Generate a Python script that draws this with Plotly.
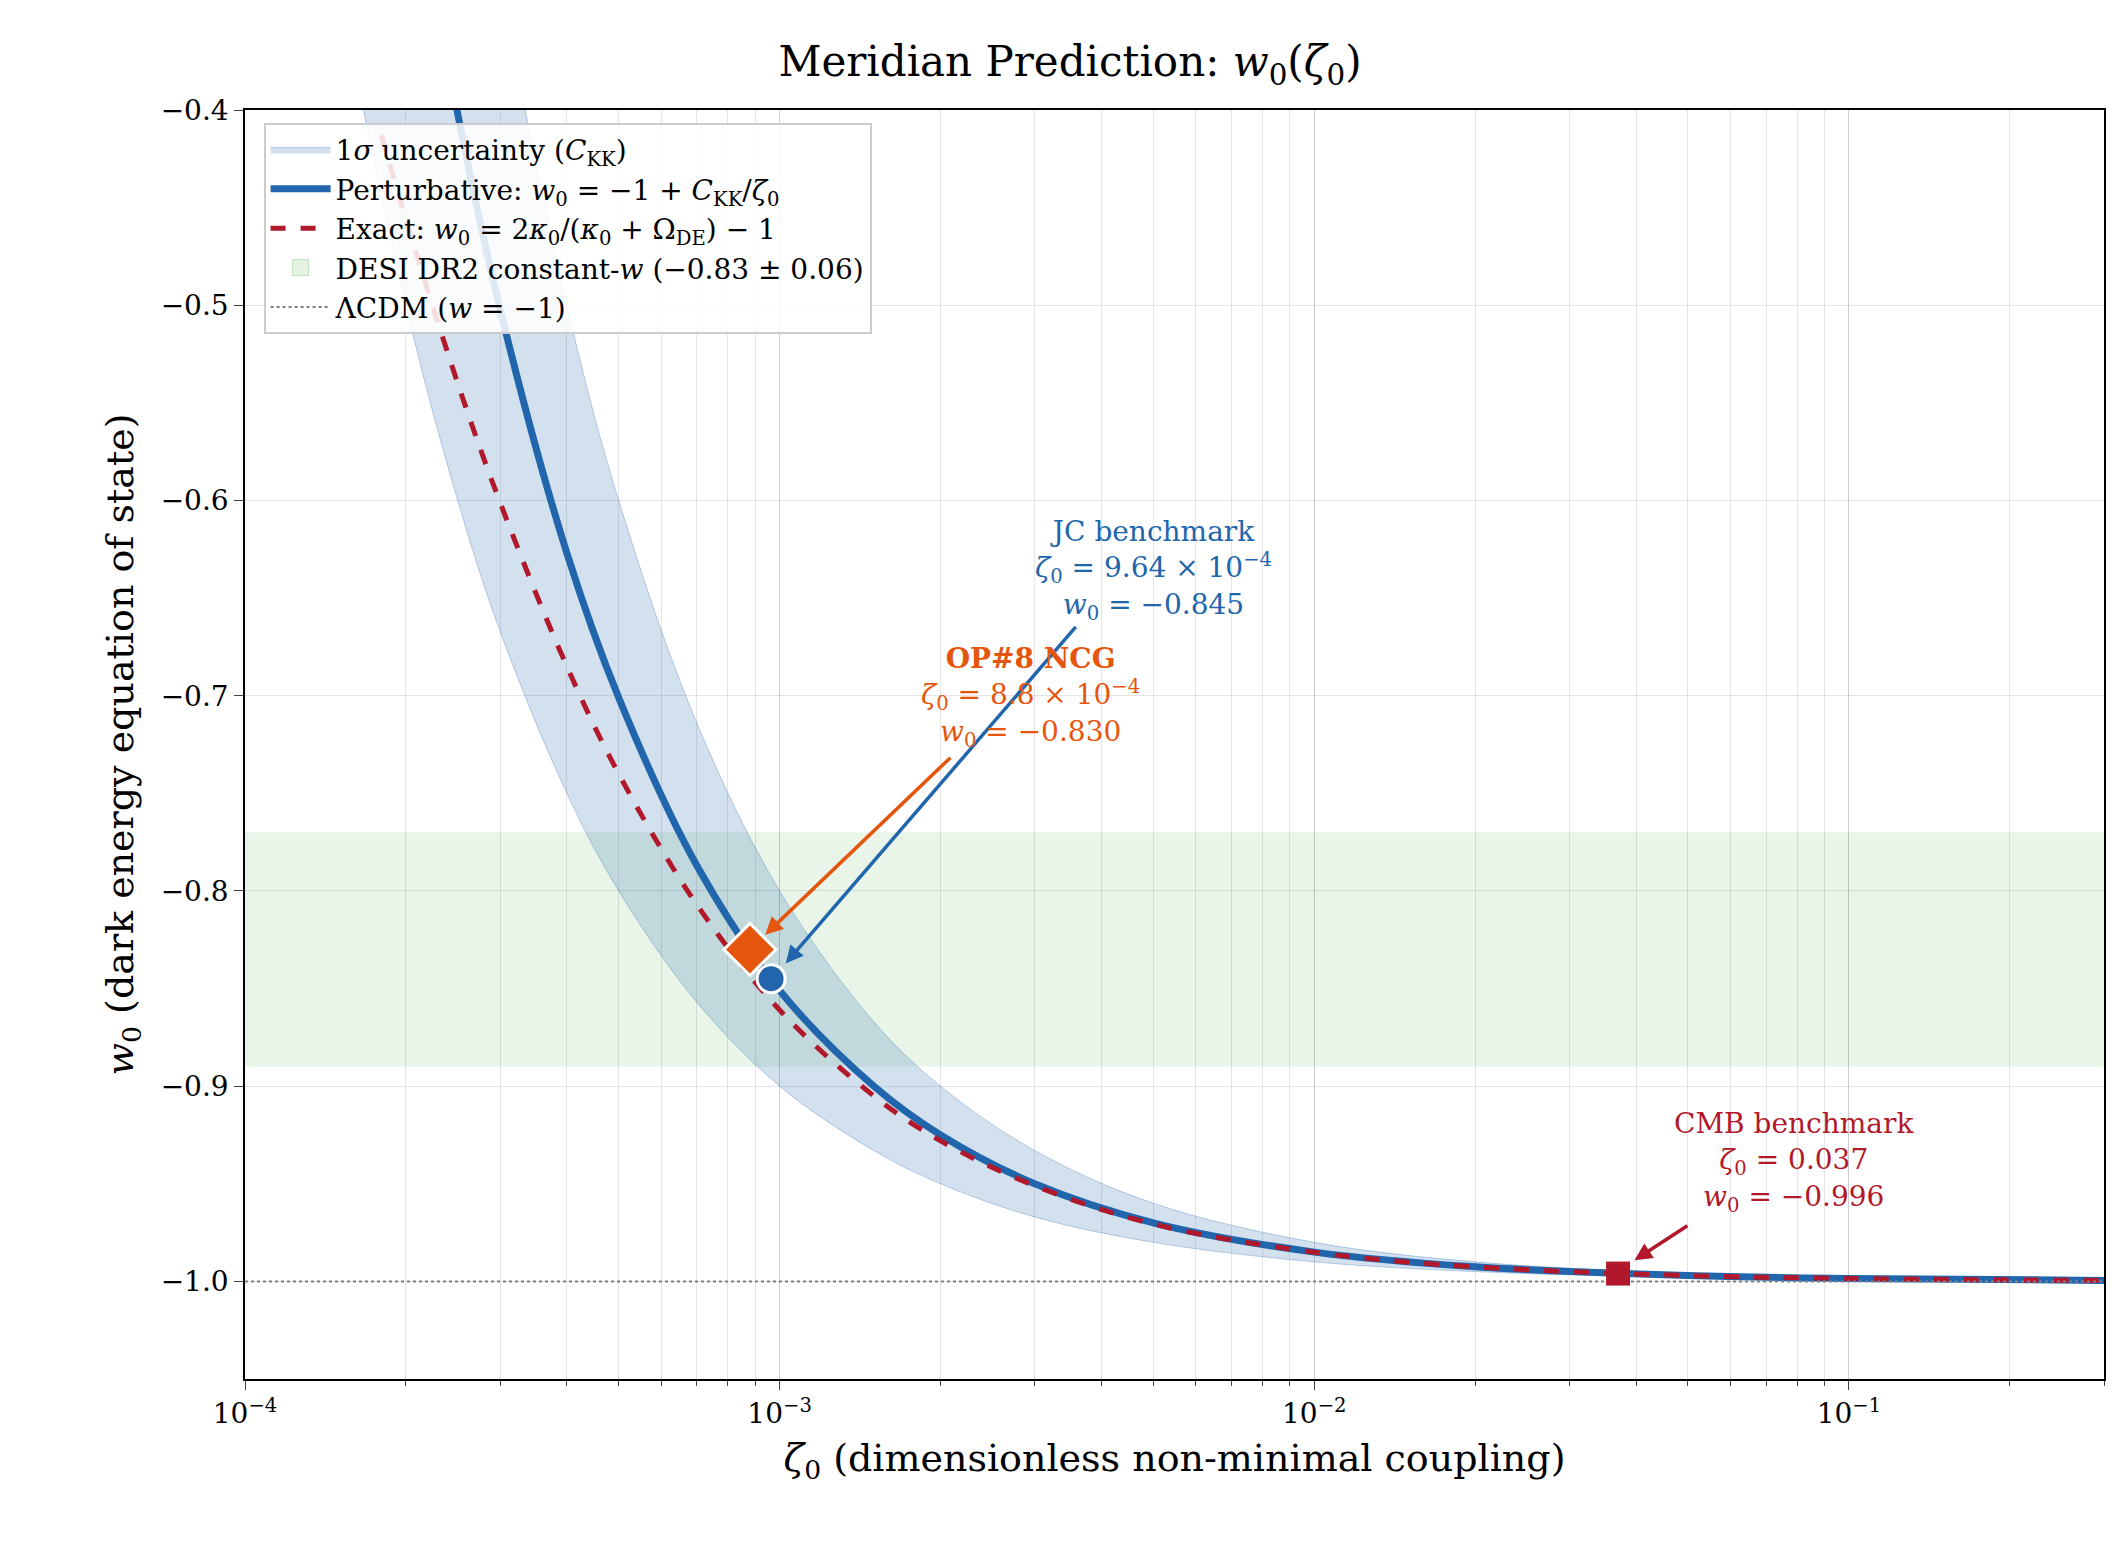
import plotly.graph_objects as go
import math

zeta = [1e-4, 1.5e-4, 2e-4, 2.5e-4, 3e-4, 4e-4, 5e-4, 7e-4, 1e-3, 1.5e-3, 2e-3, 3e-3, 5e-3, 1e-2, 2e-2, 5e-2, 0.1, 0.3]
w_pert = [0.494, -0.004, -0.253, -0.402, -0.502, -0.627, -0.701, -0.787, -0.851, -0.900, -0.925, -0.950, -0.970, -0.985, -0.9925, -0.997, -0.9985, -0.9995]
w_hi = [1.0, 0.333, 0.0, -0.2, -0.333, -0.5, -0.6, -0.714, -0.8, -0.867, -0.9, -0.933, -0.96, -0.98, -0.99, -0.996, -0.998, -0.9993]
w_lo = [0.0, -0.333, -0.5, -0.6, -0.667, -0.75, -0.8, -0.857, -0.9, -0.933, -0.95, -0.967, -0.98, -0.99, -0.995, -0.998, -0.999, -0.99967]
zeta_ex = [1.8e-4, 2e-4, 2.5e-4, 3e-4, 4e-4, 5e-4, 7e-4, 1e-3, 1.5e-3, 2e-3, 3e-3, 5e-3, 1e-2, 2e-2, 5e-2, 0.1, 0.3]
w_ex = [-0.413, -0.456, -0.540, -0.601, -0.685, -0.740, -0.807, -0.861, -0.905, -0.928, -0.951, -0.9706, -0.9851, -0.99255, -0.99701, -0.99851, -0.9995]
desi = [-0.89, -0.77]
pts = {"JC": (9.64e-4, -0.845), "OP8": (8.8e-4, -0.830), "CMB": (0.037, -0.996)}

BLUE, RED, ORANGE = "#2166ac", "#b2182b", "#e6550d"
F = "DejaVu Serif"
fig = go.Figure()
fig.add_trace(go.Scatter(x=zeta, y=w_lo, mode="lines", line=dict(width=1, color="rgba(33,102,172,0.3)", shape="spline"), showlegend=False, hoverinfo="skip"))
fig.add_trace(go.Scatter(x=zeta, y=w_hi, mode="lines", fill="tonexty", fillcolor="rgba(33,102,172,0.2)",
                         line=dict(width=1, color="rgba(33,102,172,0.3)", shape="spline"), name="1<i>σ</i> uncertainty (<i>C</i><sub>KK</sub>)"))
fig.add_trace(go.Scatter(x=zeta, y=w_pert, mode="lines", line=dict(width=7, color=BLUE, shape="spline"),
                         name="Perturbative: <i>w</i><sub>0</sub> = −1 + <i>C</i><sub>KK</sub>/<i>ζ</i><sub>0</sub>"))
fig.add_trace(go.Scatter(x=zeta_ex, y=w_ex, mode="lines", line=dict(width=5, color=RED, dash="dash", shape="spline"),
                         name="Exact: <i>w</i><sub>0</sub> = 2<i>κ</i><sub>0</sub>/(<i>κ</i><sub>0</sub> + Ω<sub>DE</sub>) − 1"))
fig.add_trace(go.Scatter(x=[None], y=[None], mode="markers", marker=dict(symbol="square", size=26, color="rgba(44,160,44,0.12)", line=dict(color="rgba(44,160,44,0.25)", width=1)),
                         name="DESI DR2 constant-<i>w</i> (−0.83 ± 0.06)"))
fig.add_trace(go.Scatter(x=[1e-4, 0.3], y=[-1, -1], mode="lines", line=dict(width=2, color="gray", dash="dot"), name="ΛCDM (<i>w</i> = −1)"))
fig.add_hrect(y0=desi[0], y1=desi[1], fillcolor="rgba(44,160,44,0.1)", line_width=0, layer="below")

fig.add_trace(go.Scatter(x=[pts["JC"][0]], y=[pts["JC"][1]], mode="markers", marker=dict(symbol="circle", size=28, color=BLUE, line=dict(color="white", width=3)), showlegend=False))
fig.add_trace(go.Scatter(x=[pts["OP8"][0]], y=[pts["OP8"][1]], mode="markers", marker=dict(symbol="diamond", size=40, color=ORANGE, line=dict(color="white", width=3)), showlegend=False))
fig.add_trace(go.Scatter(x=[pts["CMB"][0]], y=[pts["CMB"][1]], mode="markers", marker=dict(symbol="square", size=24, color=RED), showlegend=False))

def arrow(p, tx, ty, col):
    fig.add_annotation(x=math.log10(p[0]) + 0.015, y=p[1] + 0.004, ax=math.log10(tx), ay=ty, xref="x", yref="y", axref="x", ayref="y",
                       text="", showarrow=True, arrowhead=2, arrowsize=1, arrowwidth=3.5, arrowcolor=col, standoff=10)
arrow(pts["JC"], 3.6e-3, -0.664, BLUE)
arrow(pts["OP8"], 2.1e-3, -0.731, ORANGE)
arrow(pts["CMB"], 0.0502, -0.971, RED)

def label(x, y, txt, col):
    fig.add_annotation(x=math.log10(x), y=y, text=txt, showarrow=False, font=dict(family=F, size=28, color=col), align="center", yanchor="bottom")
label(5.0e-3, -0.665, "JC benchmark<br><i>ζ</i><sub>0</sub> = 9.64 × 10<sup>−4</sup><br><i>w</i><sub>0</sub> = −0.845", BLUE)
label(2.94e-3, -0.73, "<b>OP#8 NCG</b><br><i>ζ</i><sub>0</sub> = 8.8 × 10<sup>−4</sup><br><i>w</i><sub>0</sub> = −0.830", ORANGE)
label(0.079, -0.968, "CMB benchmark<br><i>ζ</i><sub>0</sub> = 0.037<br><i>w</i><sub>0</sub> = −0.996", RED)

grid = "rgba(0,0,0,0.1)"
fig.update_layout(
    width=2124, height=1547, paper_bgcolor="white", plot_bgcolor="white",
    margin=dict(l=237, r=28, t=102, b=176),
    font=dict(family=F, size=28, color="black"),
    title=dict(text="Meridian Prediction: <i>w</i><sub>0</sub>(<i>ζ</i><sub>0</sub>)", x=0.5, xanchor="center", y=0.975, font=dict(size=42)),
    legend=dict(x=0.01, y=0.99, xanchor="left", yanchor="top", traceorder="normal", bgcolor="rgba(255,255,255,0.85)",
                bordercolor="#cccccc", borderwidth=2, font=dict(size=28), itemwidth=60),
    xaxis=dict(type="log", range=[-4, math.log10(0.3)], tickvals=[1e-4, 1e-3, 1e-2, 1e-1],
               ticktext=["10<sup>−4</sup>", "10<sup>−3</sup>", "10<sup>−2</sup>", "10<sup>−1</sup>"],
               showgrid=True, gridcolor=grid, minor=dict(showgrid=True, gridcolor=grid, ticks="outside", ticklen=5, dtick="D1"),
               ticks="outside", ticklen=9, showline=True, linecolor="black", linewidth=1.5, mirror=True, zeroline=False,
               title=dict(text="<i>ζ</i><sub>0</sub> (dimensionless non-minimal coupling)", font=dict(size=38)), tickfont=dict(size=28)),
    yaxis=dict(range=[-1.05, -0.4], tickvals=[-1.0, -0.9, -0.8, -0.7, -0.6, -0.5, -0.4],
               ticktext=["−1.0", "−0.9", "−0.8", "−0.7", "−0.6", "−0.5", "−0.4"],
               showgrid=True, gridcolor=grid, ticks="outside", ticklen=9, showline=True, linecolor="black", linewidth=1.5, mirror=True, zeroline=False,
               title=dict(text="<i>w</i><sub>0</sub> (dark energy equation of state)", font=dict(size=38)), tickfont=dict(size=28)),
)
fig.write_html("out.html")
